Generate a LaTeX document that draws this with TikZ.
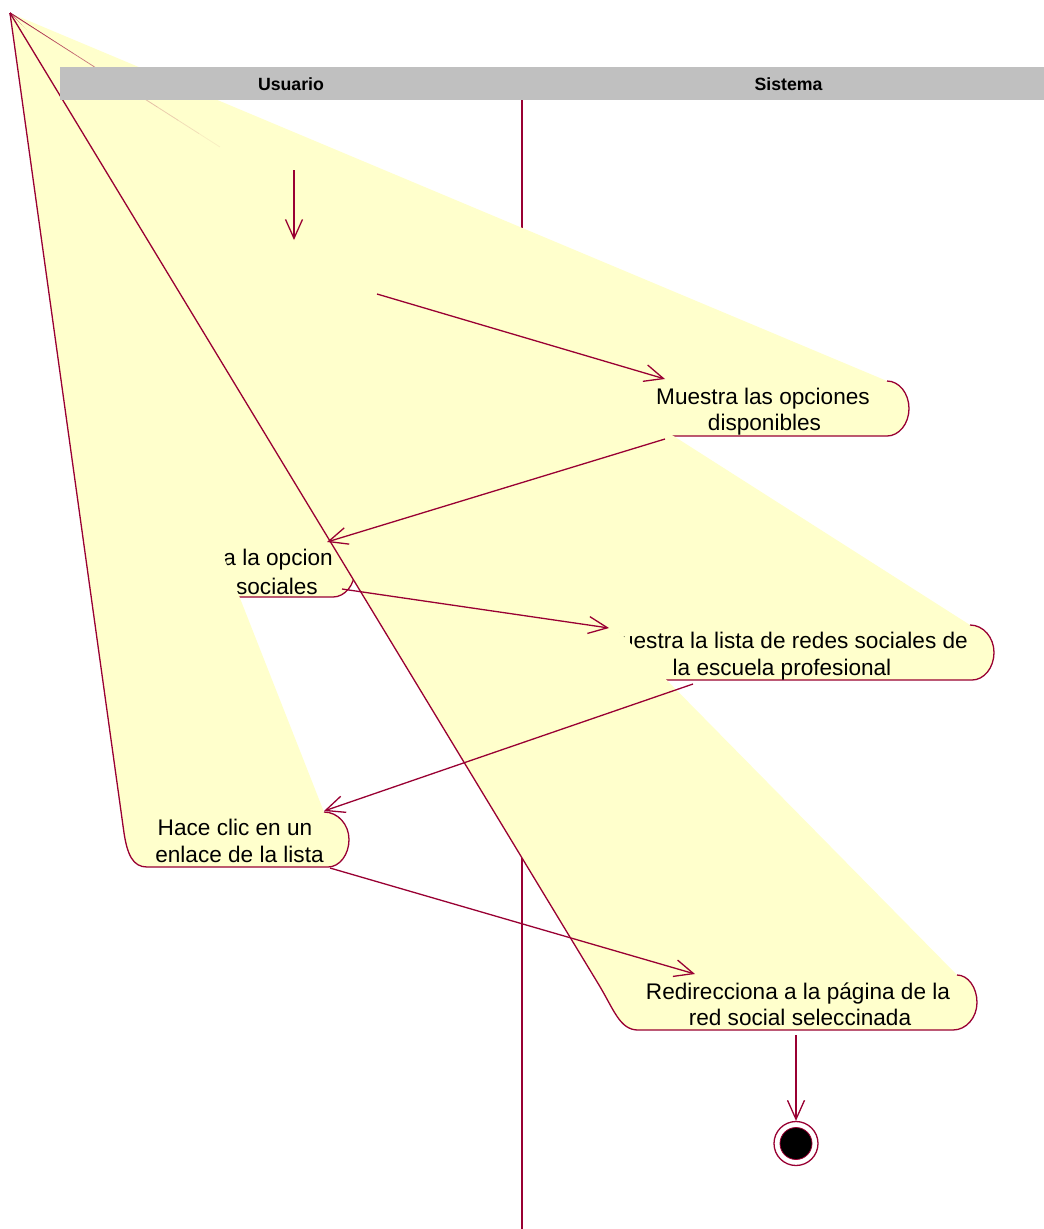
\documentclass[tikz,border=0pt]{standalone}
\usepackage{fontspec}
\setmainfont{Liberation Sans}
\usetikzlibrary{arrows.meta,calc}
\definecolor{rose}{HTML}{990033}
\definecolor{actyellow}{HTML}{FFFFCC}
\definecolor{lanegray}{HTML}{C0C0C0}
\newcommand\actbody[1]{\path[actarea] (P) #1 -- cycle; \draw[actline] (P) #1;}
\begin{document}
\begin{tikzpicture}[x=1pt,y=-1pt,
  actarea/.style={fill=actyellow},
  actline/.style={draw=rose, line width=1.3pt, line join=round},
  acttext/.style={font=\fontsize{22.6}{28}\selectfont, inner sep=0pt, anchor=base},
  lanetext/.style={font=\bfseries\fontsize{17.7}{20}\selectfont, inner sep=0pt, anchor=base},
  flow/.style={draw=rose, line width=1.3pt, -{Straight Barb[length=19pt,width=17pt]}}]
\fill[white] (0,0) rectangle (1044,1229);
\useasboundingbox (0,0) rectangle (1044,1229);
\coordinate (P) at (10,13);
% swimlane divider
\draw[rose, line width=1.3pt] (522,100) -- (522,1229);
% Muestra las opciones disponibles
\actbody{-- (596,395) .. controls (613,420) and (622,436) .. (640,436) -- (887,436) .. controls (899.1,436) and (909,423.6) .. (909,408.5) .. controls (909,393.4) and (899.1,381) .. (887,381)}
\node[acttext] (a1) at (763,404) {Muestra las opciones};
\node[acttext] (a2) at (764.5,430.5) {disponibles};
% Selecciona la opcion redes sociales
\actbody{-- (127,560) .. controls (132,585) and (138,597) .. (154,597) -- (333,597) .. controls (345.1,597) and (355,584.6) .. (355,569.5) .. controls (355,554.4) and (345.1,542) .. (333,542)}
\node[acttext, anchor=base east] (b1) at (333,565) {Selecciona la opcion};
\node[acttext, anchor=base east] (b2) at (318,594) {redes sociales};
% Muestra la lista de redes sociales
\actbody{-- (575,636) .. controls (595,662) and (600,680) .. (616,680) -- (972,680) .. controls (984.1,680) and (994,667.6) .. (994,652.5) .. controls (994,637.4) and (983.2,625) .. (970,625)}
\node[acttext, anchor=base east] (c1) at (968,648) {Muestra la lista de redes sociales de};
\node[acttext] (c2) at (782,675) {la escuela profesional};
% Hace clic
\actbody{-- (123.6,830) .. controls (127,855) and (133,867) .. (147,867) -- (328,867) .. controls (339.6,867) and (349,854.6) .. (349,839.5) .. controls (349,824.4) and (337.8,812) .. (324,812)}
\node[acttext] (d1) at (235,835) {Hace clic en un};
\node[acttext] (d2) at (239.5,862) {enlace de la lista};
% Redirecciona
\actbody{-- (599,985) .. controls (614,1010) and (620,1030) .. (638,1030) -- (953,1030) .. controls (966.2,1030) and (977,1017.6) .. (977,1002.5) .. controls (977,987.4) and (968,975) .. (957,975)}
\node[acttext] (e1) at (798,999) {Redirecciona a la página de la};
\node[acttext] (e2) at (800,1025) {red social seleccinada};
% faint edge
\coordinate (fe) at (220,147);
\foreach \i in {0,...,9}{
  \pgfmathsetmacro\op{0.65*(1-\i/10)}
  \pgfmathsetmacro\ta{\i/10}
  \pgfmathsetmacro\tb{\i/10+0.1}
  \draw[rose, line width=0.8pt, opacity=\op] ($(P)!\ta!(fe)$) -- ($(P)!\tb!(fe)$);
}
% header
\fill[lanegray] (60,67) rectangle (1044,100);
\node[lanetext] (u) at (291,90) {Usuario};
\node[lanetext] (s) at (788.5,90) {Sistema};
% connector ends
\coordinate (t0s) at (294,170); \coordinate (t0e) at (294,240);
\coordinate (t1s) at (377,294); \coordinate (t1e) at (665,379);
\coordinate (t2s) at (665,439); \coordinate (t2e) at (327,542);
\coordinate (t3s) at (342,589); \coordinate (t3e) at (609,628);
\coordinate (t4s) at (693,684); \coordinate (t4e) at (324,811);
\coordinate (t5s) at (330,868); \coordinate (t5e) at (695,974);
\coordinate (t6s) at (796,1035);
% final state
\node[circle, draw=rose, line width=1.3pt, fill=white, minimum size=44pt, inner sep=0pt] (fin) at (796,1143.5) {};
\node[circle, draw=rose, line width=0.8pt, fill=black, minimum size=32pt, inner sep=0pt] (finc) at (fin.center) {};
% transitions
\draw[flow] (t0s) -- (t0e);
\draw[flow] (t1s) -- (t1e);
\draw[flow] (t2s) -- (t2e);
\draw[flow] (t3s) -- (t3e);
\draw[flow] (t4s) -- (t4e);
\draw[flow] (t5s) -- (t5e);
\draw[flow] (t6s) -- (fin.north);
\end{tikzpicture}
\end{document}
